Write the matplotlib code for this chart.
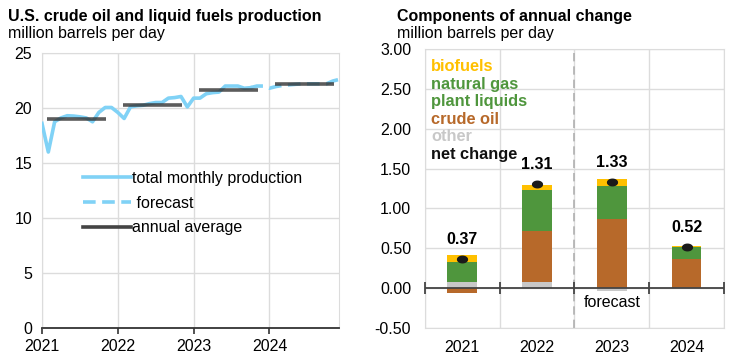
import numpy as np
import matplotlib.pyplot as plt
from matplotlib.lines import Line2D

plt.rcParams['font.family'] = ['Liberation Sans', 'DejaVu Sans']
plt.rcParams['font.size'] = 11.5

# left panel: monthly production (million b/d), Jan 2021 .. Dec 2024
years = ['2021', '2022', '2023', '2024']
history = [18.6, 16.0, 18.75, 19.1, 19.3, 19.27, 19.2, 19.1, 18.75, 19.6, 20.05, 20.05,
           19.6, 19.05, 20.1, 20.2, 20.25, 20.4, 20.5, 20.5, 20.9, 20.95, 21.05, 20.1,
           20.9, 20.9, 21.3, 21.4, 21.45, 22.0, 22.0, 22.0, 21.8, 21.85]
forecast = [21.85, 22.0, 22.0, 21.8, 21.95, 22.05, 22.1, 22.15, 22.2, 22.2, 22.2,
            22.2, 22.2, 22.45, 22.6]
annual_avg = [19.0, 20.27, 21.6, 22.15]

# right panel: components of annual change
cats = ['2021', '2022', '2023', '2024']
other = [0.075, 0.08, -0.03, 0.0]
crude = [-0.055, 0.64, 0.87, 0.36]
ngpl = [0.25, 0.51, 0.41, 0.16]
biofuels = [0.09, 0.07, 0.09, 0.01]
net_change = [0.37, 1.31, 1.33, 0.52]

blue = '#80D2F6'
grid_c = '#DCDCDC'
c_bio = '#FFC000'
c_ngpl = '#4F963D'
c_crude = '#B7692A'
c_other = '#C8C8C8'

fig = plt.figure(figsize=(7.29, 3.56), dpi=100)
ax1 = fig.add_axes([0.0576, 0.0787, 0.4074, 0.7723])
ax2 = fig.add_axes([0.583, 0.0787, 0.410, 0.7836])

# ---- left
mh = np.arange(len(history))
mf = np.arange(len(history) - 1, len(history) - 1 + len(forecast))
ax1.plot(mh, history, color=blue, lw=2.6, solid_joinstyle='round', zorder=3)
ax1.plot(mf, forecast, color=blue, lw=2.6, dashes=(3.5, 1.8), zorder=3)
for i, v in enumerate(annual_avg):
    ax1.plot([i * 12 + 0.8, i * 12 + 10.2], [v, v], color='#333333', lw=2.6,
             alpha=0.8, solid_capstyle='butt', zorder=4)

ax1.set_xlim(0, 47)
ax1.set_ylim(0, 25)
ax1.set_xticks(np.arange(len(years)) * 12)
ax1.set_xticklabels(years)
ax1.set_yticks(np.arange(0, 26, 5))
ax1.grid(True, color=grid_c, lw=1)
ax1.set_axisbelow(True)
ax1.tick_params(axis='y', length=0, pad=7)
ax1.tick_params(axis='x', length=4, width=1.2, color='#333333', pad=4)
for s in ['top', 'right', 'left']:
    ax1.spines[s].set_color(grid_c)
ax1.spines['bottom'].set_color('#333333')
ax1.spines['bottom'].set_linewidth(1.3)

handles = [Line2D([], [], color=blue, lw=2.6),
           Line2D([], [], color=blue, lw=2.6, dashes=(3.5, 1.8)),
           Line2D([], [], color='#444444', lw=2.6)]
ax1.legend(handles, ['total monthly production', ' forecast', 'annual average'],
           loc='upper left', bbox_to_anchor=(0.11, 0.6), frameon=False,
           handlelength=3.0, handletextpad=0.1, labelspacing=0.6, borderpad=0,
           fontsize=11.5)

fig.text(0.011, 0.953, 'U.S. crude oil and liquid fuels production', fontsize=11.5,
         fontweight='bold', va='center')
fig.text(0.011, 0.905, 'million barrels per day', fontsize=11.5, va='center')

# ---- right
x = np.arange(len(cats))
w = 0.4
pos_base = np.zeros(len(cats))
neg_base = np.zeros(len(cats))
for vals, col in [(other, c_other), (crude, c_crude), (ngpl, c_ngpl), (biofuels, c_bio)]:
    vals = np.array(vals)
    base = np.where(vals >= 0, pos_base, neg_base)
    ax2.bar(x, vals, w, bottom=base, color=col, zorder=3)
    pos_base = pos_base + np.where(vals >= 0, vals, 0)
    neg_base = neg_base + np.where(vals < 0, vals, 0)

dot = [(1.5 * np.cos(t), np.sin(t)) for t in np.linspace(0, 2 * np.pi, 30)]
ax2.scatter(x, net_change, marker=dot, s=50, color='#1A1A1A', zorder=5)
for xi, v in zip(x, net_change):
    ax2.text(xi, v + 0.15, f'{v:.2f}', ha='center', va='bottom', fontweight='bold',
             fontsize=11.5)

ax2.set_xlim(-0.5, len(cats) - 0.5)
ax2.set_ylim(-0.5, 3.0)
ax2.set_yticks(np.arange(-0.5, 3.01, 0.5))
ax2.set_yticklabels([f'{t:.2f}' for t in np.arange(-0.5, 3.01, 0.5)])
ax2.set_xticks(x)
ax2.set_xticklabels(cats)
ax2.set_xticks(np.arange(len(cats) + 1) - 0.5, minor=True)
ax2.grid(True, which='major', axis='y', color=grid_c, lw=1)
ax2.grid(True, which='minor', axis='x', color=grid_c, lw=1)
ax2.set_axisbelow(True)
ax2.tick_params(axis='both', which='both', length=0)
ax2.tick_params(axis='y', pad=10)
ax2.tick_params(axis='x', pad=9)
for s in ax2.spines.values():
    s.set_color(grid_c)

ax2.axhline(0, color='#444444', lw=1.3, zorder=4)
ax2.plot(np.arange(len(cats) + 1) - 0.5, np.zeros(len(cats) + 1), ls='none',
         marker='|', ms=9, mew=1.3, color='#444444', zorder=4, clip_on=False)
ax2.axvline(1.5, color='#B0B0B0', lw=1.2, dashes=(5, 3), zorder=2)
ax2.text(2.0, -0.175, 'forecast', ha='center', va='center', fontsize=11.5)

legend_items = [('biofuels', c_bio), ('natural gas', c_ngpl), ('plant liquids', c_ngpl),
                ('crude oil', c_crude), ('other', c_other), ('net change', '#111111')]
for k, (lab, col) in enumerate(legend_items):
    ax2.text(0.02, 0.937 - k * 0.063, lab, color=col, fontweight='bold',
             transform=ax2.transAxes, va='center', fontsize=11.8)

fig.text(0.545, 0.953, 'Components of annual change', fontsize=11.5,
         fontweight='bold', va='center')
fig.text(0.545, 0.905, 'million barrels per day', fontsize=11.5, va='center')

fig.savefig('out.png', dpi=100)
